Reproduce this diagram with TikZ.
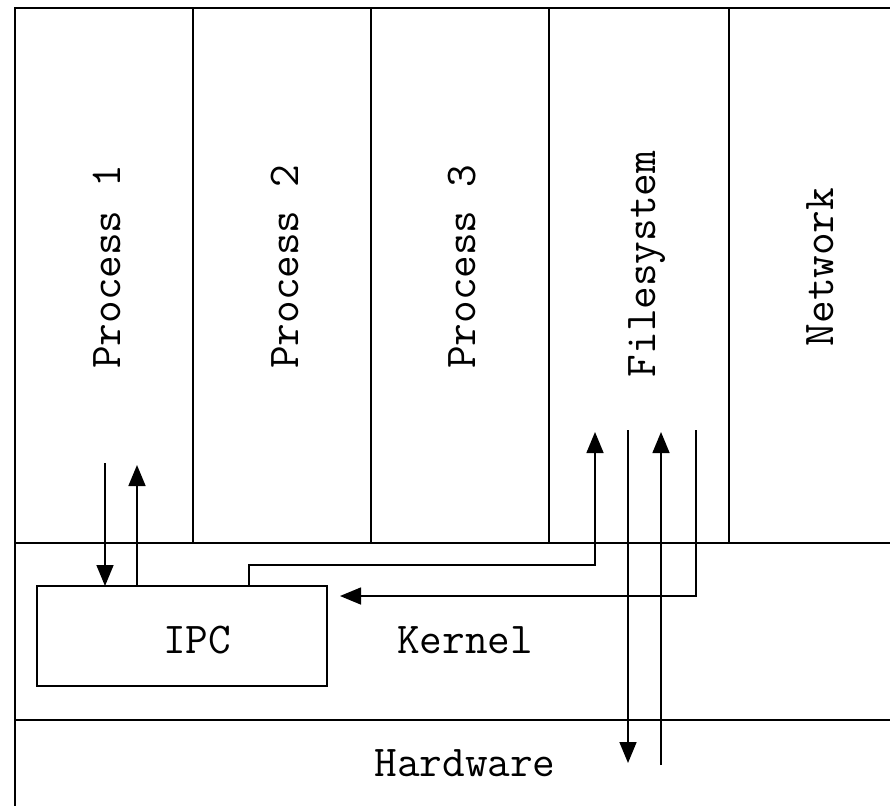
\documentclass[tikz,border=0pt]{standalone}
\usetikzlibrary{arrows.meta}
\begin{document}
\begin{tikzpicture}[x=1pt,y=-1pt,
  line/.style={line width=1.6pt, draw=black},
  arr/.style={line, -{Triangle[length=21pt,width=17pt]}},
  lbl/.style={font=\ttfamily\fontsize{44}{50}\selectfont, inner sep=0pt, anchor=base},
  vlbl/.style={lbl, rotate=90}]
\useasboundingbox (0,0) rectangle (890,806);
% frame and layers
\coordinate (tl) at (15,8);
\coordinate (tr) at (890,8);
\coordinate (bl) at (15,806);
\coordinate (kl) at (15,543);
\coordinate (kr) at (890,543);
\coordinate (hl) at (15,720);
\coordinate (hr) at (890,720);
\draw[line] (tr) -- (tl) -- (bl);
\draw[line] (kl) -- (kr);
\draw[line] (hl) -- (hr);
\foreach \x in {193,371,549,729} \draw[line] (\x,8) -- (\x,543);
% labels
\node[vlbl] (p1) at (120,267) {Process 1};
\node[vlbl] (p2) at (298,267) {Process 2};
\node[vlbl] (p3) at (475,267) {Process 3};
\node[vlbl] (fs) at (655,264) {Filesystem};
\node[vlbl] (net) at (833,267) {Network};
\node[lbl] (kern) at (465,653) {Kernel};
\node[lbl] (hw) at (465,776) {Hardware};
% IPC box
\node[line, draw, minimum width=290pt, minimum height=100pt, inner sep=0pt, outer sep=0pt] (ipc) at (182,636) {};
\node[lbl] (ipct) at (197,653) {IPC};
% arrows
\coordinate (a1) at (105,463);
\coordinate (a2) at (137,465);
\draw[arr] (a1) -- (a1 |- ipc.north);
\draw[arr] (a2 |- ipc.north) -- (a2);
\coordinate (ipcout) at (249,565);
\coordinate (fsin) at (595,432);
\draw[arr] (ipcout |- ipc.north) -- (ipcout) -| (fsin);
\coordinate (fsout) at (696,430);
\coordinate (ipcin) at (340,596);
\draw[arr] (fsout) |- (ipcin);
\coordinate (fsd) at (628,430);
\coordinate (hwd) at (628,763);
\draw[arr] (fsd) -- (hwd);
\coordinate (hwu) at (661,765);
\coordinate (fsu) at (661,432);
\draw[arr] (hwu) -- (fsu);
\end{tikzpicture}
\end{document}
